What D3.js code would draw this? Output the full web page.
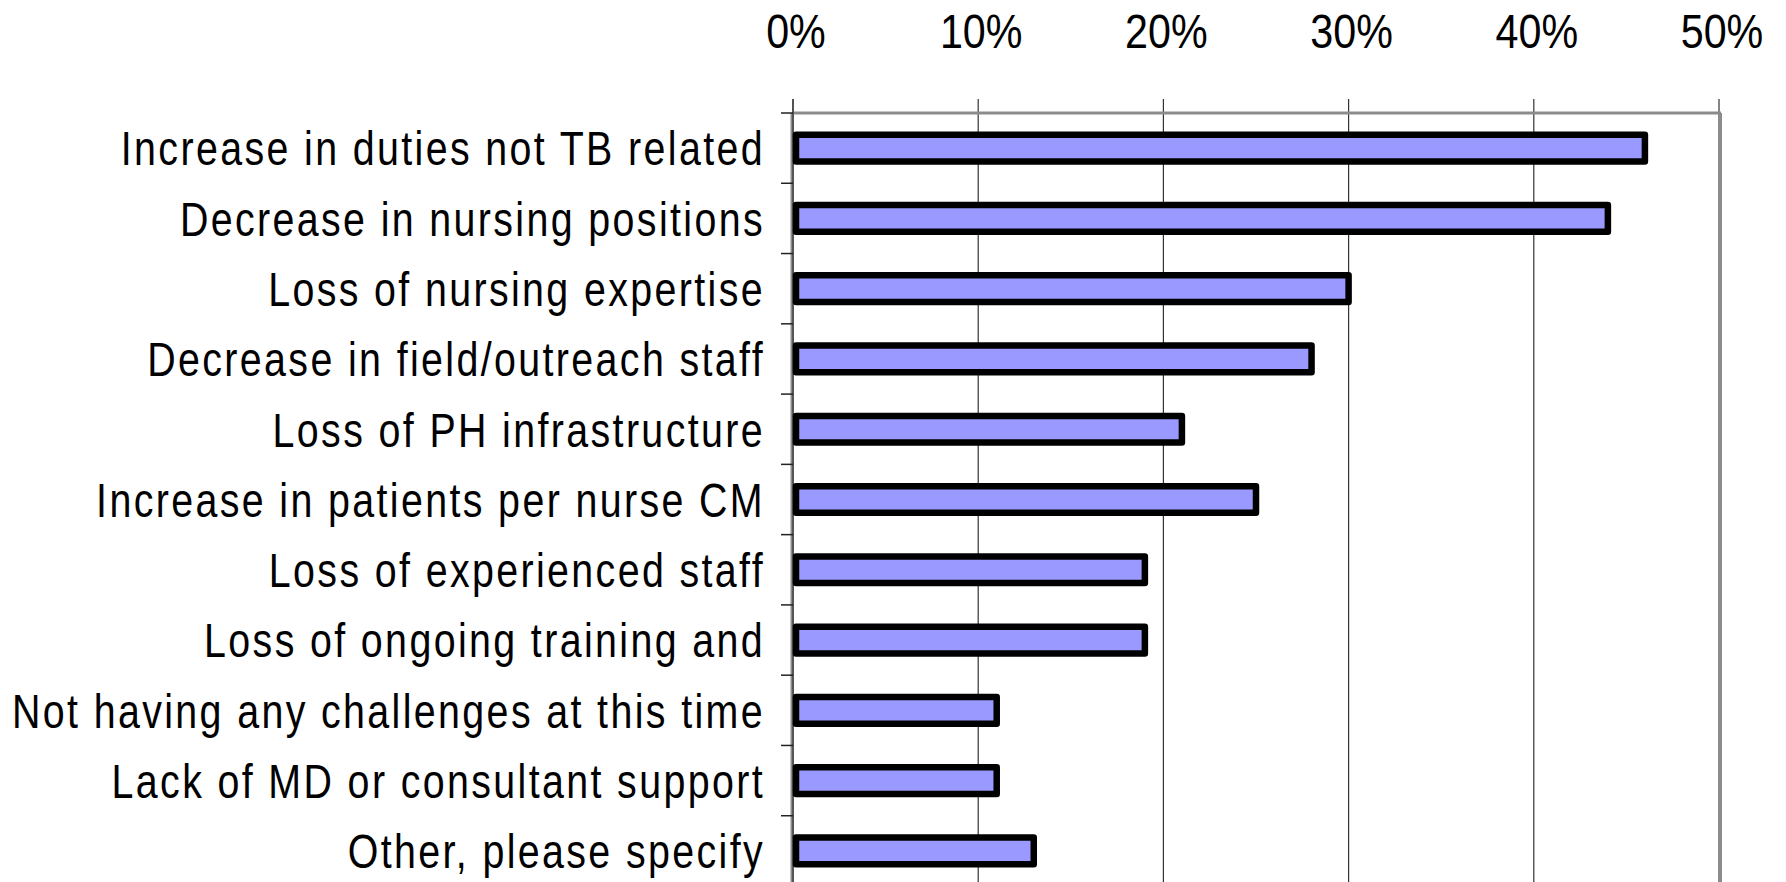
<!DOCTYPE html>
<html>
<head>
<meta charset="utf-8">
<script src="https://cdn.jsdelivr.net/npm/d3@7"></script>
<style>
  body { margin: 0; background: #fff; }
  text { font-family: "Liberation Sans", Arial, sans-serif; fill: #000; }
</style>
</head>
<body>
<div id="chart"></div>
<script>
var width = 1786;
var height = 882;

// data
var categories = [
    "Increase in duties not TB related",
    "Decrease in nursing positions",
    "Loss of nursing expertise",
    "Decrease in field/outreach staff",
    "Loss of PH infrastructure",
    "Increase in patients per nurse CM",
    "Loss of experienced staff",
    "Loss of ongoing training and",
    "Not having any challenges at this time",
    "Lack of MD or consultant support",
    "Other, please specify"
];
var values = [46, 44, 30, 28, 21, 25, 19, 19, 11, 11, 13];
var tickValues = [0, 10, 20, 30, 40, 50];

var plotLeft = 793, plotRight = 1719, plotTop = 113, plotBottom = 886;
var narrow = 0.82; // squeeze the text like Arial Narrow

var svg = d3.select("#chart")
    .append("svg")
    .attr("width", width)
    .attr("height", height);

var x = d3.scaleLinear().domain([0, 50]).range([plotLeft, plotRight]);
var y = d3.scaleBand().domain(categories).range([plotTop, plotBottom])
    .paddingInner(0.62).paddingOuter(0.31);

// vertical gridlines, with the tick stubs above the frame
svg.append("g")
    .selectAll("line")
    .data(tickValues)
    .enter()
        .append("line")
        .attr("x1", function(d){ return x(d); })
        .attr("x2", function(d){ return x(d); })
        .attr("y1", plotTop - 14)
        .attr("y2", plotBottom)
        .attr("stroke", "#333")
        .attr("stroke-width", 1.2);

// top value axis labels
svg.append("g")
    .selectAll("text")
    .data(tickValues)
    .enter()
        .append("text")
        .attr("transform", function(d){ return "translate(" + (x(d) + 3) + ",48) scale(0.86,1)"; })
        .attr("text-anchor", "middle")
        .attr("font-size", 48)
        .text(function(d){ return d + "%"; });

// frame: top, right, left
svg.append("line")
    .attr("x1", plotLeft).attr("x2", plotRight + 2)
    .attr("y1", plotTop).attr("y2", plotTop)
    .attr("stroke", "#8c8c8c").attr("stroke-width", 3);
svg.append("line")
    .attr("x1", plotRight + 1).attr("x2", plotRight + 1)
    .attr("y1", plotTop).attr("y2", plotBottom)
    .attr("stroke", "#8c8c8c").attr("stroke-width", 4);
svg.append("line")
    .attr("x1", plotLeft - 1).attr("x2", plotLeft - 1)
    .attr("y1", plotTop).attr("y2", plotBottom)
    .attr("stroke", "#8c8c8c").attr("stroke-width", 3);
svg.append("line")
    .attr("x1", plotLeft).attr("x2", plotLeft)
    .attr("y1", plotTop - 14).attr("y2", plotBottom)
    .attr("stroke", "#222").attr("stroke-width", 1);

// category ticks on the left
svg.append("g")
    .selectAll("line")
    .data(d3.range(categories.length))
    .enter()
        .append("line")
        .attr("x1", plotLeft - 12)
        .attr("x2", plotLeft)
        .attr("y1", function(i){ return plotTop + i * y.step(); })
        .attr("y2", function(i){ return plotTop + i * y.step(); })
        .attr("stroke", "#222")
        .attr("stroke-width", 1.5);

// category labels
svg.append("g")
    .selectAll("text")
    .data(categories)
    .enter()
        .append("text")
        .attr("transform", function(d){ return "translate(765," + (y(d) + y.bandwidth() / 2) + ") scale(" + narrow + ",1)"; })
        .attr("dy", "0.36em")
        .attr("text-anchor", "end")
        .attr("font-size", 48)
        .attr("letter-spacing", 2.9)
        .text(function(d){ return d; });

// the bars
svg.append("g")
    .selectAll("rect")
    .data(values)
    .enter()
        .append("rect")
        .attr("x", x(0) + 3)
        .attr("y", function(d, i){ return y(categories[i]); })
        .attr("width", function(d){ return x(d) - x(0) - 3; })
        .attr("height", y.bandwidth())
        .attr("fill", "#9999ff")
        .attr("stroke", "#000")
        .attr("stroke-width", 6.5)
        .attr("stroke-linejoin", "round");
</script>
</body>
</html>
